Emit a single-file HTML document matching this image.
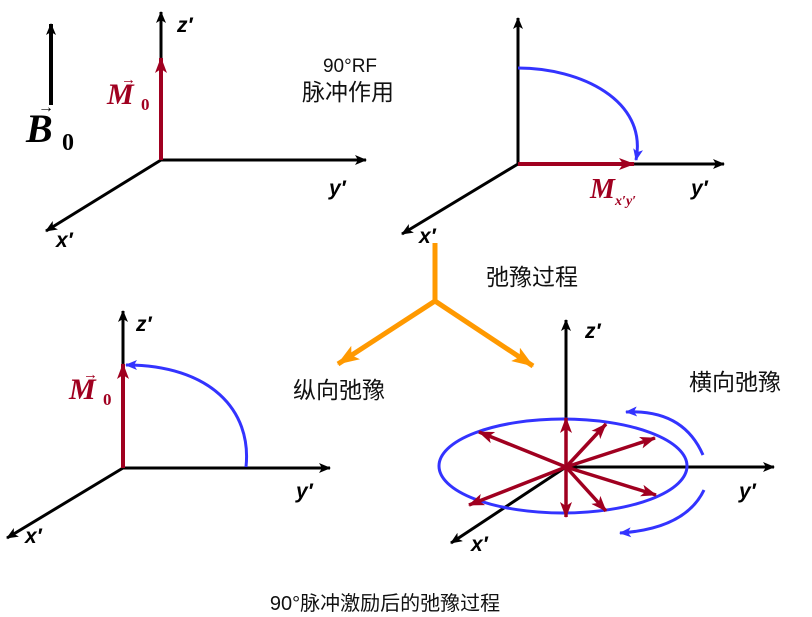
<!DOCTYPE html>
<html><head><meta charset="utf-8"><style>body{margin:0;background:#fff}svg{display:block}</style></head><body>
<svg width="812" height="617" viewBox="0 0 812 617" xmlns="http://www.w3.org/2000/svg">
<defs>
<marker id="ak" viewBox="0 0 12 10" refX="11" refY="5" markerWidth="12" markerHeight="10" markerUnits="userSpaceOnUse" orient="auto"><path d="M0,0 L12,5 L0,10 L3,5 Z" fill="#000"/></marker>
<marker id="ar" viewBox="0 0 16 12" refX="15" refY="6" markerWidth="16" markerHeight="12" markerUnits="userSpaceOnUse" orient="auto"><path d="M0,0 L16,6 L0,12 L4,6 Z" fill="#a00020"/></marker>
<marker id="ab" viewBox="0 0 12 10" refX="11" refY="5" markerWidth="12" markerHeight="10" markerUnits="userSpaceOnUse" orient="auto"><path d="M0,0 L12,5 L0,10 L3,5 Z" fill="#3333ff"/></marker>
<marker id="ao" viewBox="0 0 22 16" refX="21" refY="8" markerWidth="22" markerHeight="16" markerUnits="userSpaceOnUse" orient="auto"><path d="M0,0 L22,8 L0,16 L5,8 Z" fill="#ff9900"/></marker>
</defs>
<g stroke="#000" stroke-width="3" fill="none" marker-end="url(#ak)">
<line x1="161" y1="160" x2="161" y2="12"/><line x1="161" y1="160" x2="366" y2="160"/><line x1="161" y1="160" x2="46" y2="231"/>
<line x1="51" y1="105" x2="51" y2="24" stroke-width="4"/>
<line x1="518" y1="164" x2="518" y2="18"/><line x1="518" y1="164" x2="724" y2="164"/><line x1="518" y1="164" x2="402" y2="234"/>
<line x1="123" y1="468" x2="123" y2="311"/><line x1="123" y1="468" x2="330" y2="468"/><line x1="123" y1="468" x2="7" y2="538"/>
<line x1="566" y1="467" x2="566" y2="320"/><line x1="566" y1="467" x2="774" y2="467"/><line x1="566" y1="467" x2="451" y2="543"/>
</g>
<g stroke="#a00020" stroke-width="4" fill="none" marker-end="url(#ar)">
<line x1="161" y1="160" x2="161" y2="58"/>
<line x1="518" y1="164" x2="634" y2="164"/>
<line x1="123" y1="468" x2="123" y2="364"/>
</g>
<g stroke="#3333ff" stroke-width="3" fill="none">
<path d="M518,68 C580,68 648,100 636,160" marker-end="url(#ab)"/>
<path d="M246,467 C252,410 210,365 126,365" marker-end="url(#ab)"/>
<ellipse cx="563" cy="466" rx="124" ry="47"/>
<path d="M703,455 C690,425 665,410 626,412" marker-end="url(#ab)"/>
<path d="M704,490 C692,515 665,530 620,533" marker-end="url(#ab)"/>
</g>
<g stroke="#a00020" stroke-width="3.5" fill="none" marker-end="url(#ar)">
<line x1="566" y1="467" x2="566" y2="418"/><line x1="566" y1="467" x2="566" y2="517"/>
<line x1="566" y1="467" x2="479" y2="432"/><line x1="566" y1="467" x2="606" y2="424"/>
<line x1="566" y1="467" x2="655" y2="438"/><line x1="566" y1="467" x2="656" y2="495"/>
<line x1="566" y1="467" x2="606" y2="511"/><line x1="566" y1="467" x2="469" y2="505"/>
</g>
<g stroke="#ff9900" stroke-width="5" fill="none">
<polyline points="435,243 435,301"/>
<line x1="435" y1="301" x2="338" y2="364" marker-end="url(#ao)"/>
<line x1="435" y1="301" x2="533" y2="366" marker-end="url(#ao)"/>
</g>
<g font-family="Liberation Sans, sans-serif" font-weight="bold" font-style="italic" font-size="21" fill="#000">
<text x="177" y="32">z′</text><text x="329" y="195">y′</text><text x="56" y="247">x′</text>
<text x="691" y="195">y′</text><text x="419" y="243">x′</text>
<text x="136" y="331">z′</text><text x="296" y="498">y′</text><text x="25" y="543">x′</text>
<text x="585" y="338">z′</text><text x="739" y="498">y′</text><text x="471" y="551">x′</text>
</g>
<g font-family="Liberation Serif, serif" font-weight="bold" fill="#a00020">
<text x="107" y="104" font-size="30" font-style="italic">M</text><text x="141" y="110" font-size="17">0</text>
<text x="121" y="84" font-size="15">→</text>
<text x="69" y="399" font-size="30" font-style="italic">M</text><text x="103" y="405" font-size="17">0</text>
<text x="83" y="379" font-size="15">→</text>
<text x="590" y="198" font-size="28" font-style="italic">M</text><text x="615" y="205" font-size="14" font-style="italic">x′y′</text>
</g>
<g font-family="Liberation Serif, serif" font-weight="bold" fill="#000">
<text x="26" y="142" font-size="40" font-style="italic">B</text><text x="62" y="150" font-size="24">0</text>
<text x="38" y="112" font-size="16">→</text>
</g>
<g font-family="Liberation Sans, 'Noto Sans CJK SC', sans-serif" font-size="23" fill="#111" text-anchor="middle">
<text x="350" y="72" font-size="19">90°RF</text><text x="348" y="100">脉冲作用</text>
<text x="532" y="285">弛豫过程</text>
<text x="339" y="398">纵向弛豫</text>
<text x="735" y="390">横向弛豫</text>
<text x="385" y="610" font-size="20">90°脉冲激励后的弛豫过程</text>
</g>
</svg>
</body></html>
